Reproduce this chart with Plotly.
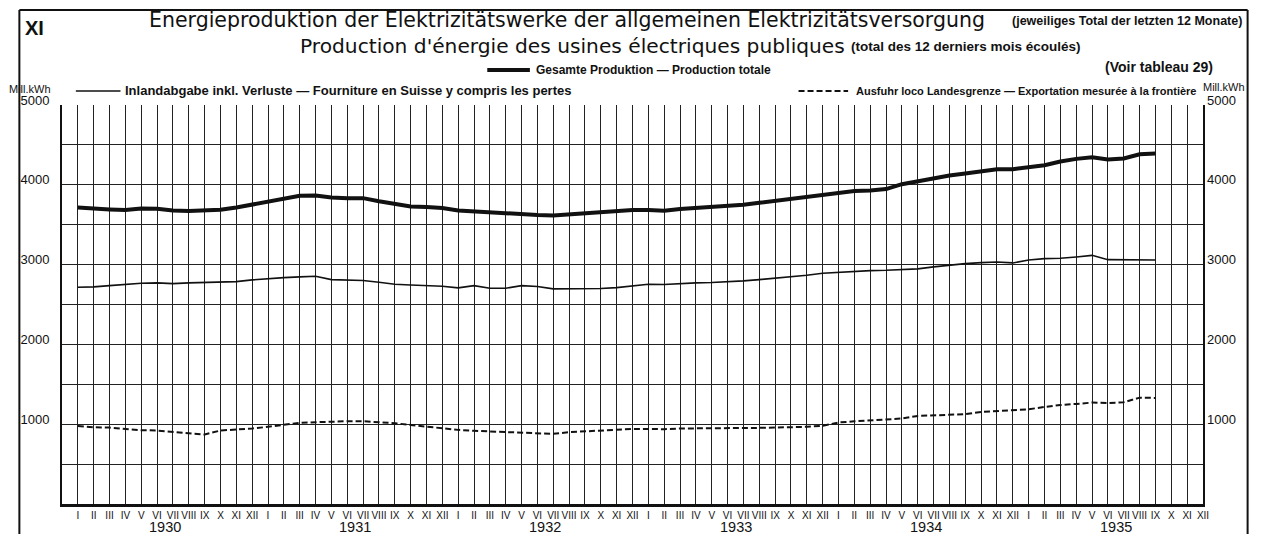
import plotly.graph_objects as go

# ---------------- data ----------------
months = list(range(1, 70))  # Jan 1930 .. Sep 1935

total_production = [
    3716, 3700, 3692, 3683, 3704, 3700, 3679, 3671, 3675, 3687, 3716, 3754,
    3791, 3829, 3862, 3866, 3841, 3833, 3833, 3795, 3758, 3729, 3721, 3708,
    3679, 3667, 3650, 3646, 3637, 3621, 3616, 3629, 3637, 3646, 3671, 3683,
    3683, 3675, 3696, 3708, 3721, 3733, 3750, 3775, 3800, 3821, 3843, 3880,
    3904, 3921, 3929, 3946, 4008, 4046, 4083, 4116, 4141, 4166, 4196, 4196,
    4216, 4246, 4291, 4325, 4346, 4316, 4329, 4383, 4391,
]
inland_supply = [
    2716, 2721, 2737, 2754, 2766, 2771, 2762, 2771, 2775, 2779, 2787, 2808,
    2825, 2837, 2846, 2854, 2812, 2808, 2800, 2779, 2754, 2744, 2739, 2729,
    2708, 2737, 2704, 2704, 2737, 2725, 2696, 2696, 2696, 2700, 2712, 2733,
    2754, 2750, 2762, 2771, 2775, 2783, 2796, 2812, 2829, 2846, 2866, 2892,
    2904, 2916, 2925, 2929, 2933, 2946, 2971, 2996, 3012, 3025, 3033, 3021,
    3058, 3075, 3079, 3096, 3116, 3062, 3058, 3058, 3058,
]
export_border = [
    979, 962, 958, 941, 925, 921, 904, 883, 871, 921, 933, 946,
    967, 992, 1017, 1025, 1033, 1037, 1037, 1029, 1012, 990, 967, 950,
    929, 917, 908, 904, 896, 887, 879, 900, 912, 921, 937, 941,
    941, 937, 946, 946, 946, 946, 950, 954, 958, 958, 967, 981,
    1021, 1037, 1050, 1054, 1071, 1104, 1112, 1116, 1125, 1154, 1166, 1171,
    1187, 1216, 1241, 1254, 1271, 1266, 1275, 1333, 1329,
]

roman_months = ["I", "II", "III", "IV", "V", "VI", "VII", "VIII", "IX", "X", "XI", "XII"]
years = [1930, 1931, 1932, 1933, 1934, 1935]
month_tickvals = list(range(1, 73))
month_ticktext = roman_months * len(years)

y_tickvals = list(range(0, 5001, 500))
y_ticktext = ["" if v % 1000 or v == 0 else str(v) for v in y_tickvals]

# ---------------- layout helpers ----------------
# The page body has an 8px margin, so the figure is made 8px smaller and all
# page positions below are converted by subtracting that offset.
O = 8
W, H = 1265 - O, 534 - O
PLOT_X0, PLOT_X1 = 52, 1203      # page pixels
PLOT_Y0, PLOT_Y1 = 105, 504      # page pixels
L, R = PLOT_X0 - O, W - (PLOT_X1 - O)
T, B = PLOT_Y0 - O, H - (PLOT_Y1 - O)
PW, PH = PLOT_X1 - PLOT_X0, PLOT_Y1 - PLOT_Y0


def px(x):
    return (x - PLOT_X0) / PW


def py(y):
    return (PLOT_Y1 - y) / PH


NARROW = "Liberation Sans Narrow, Arial Narrow, Liberation Sans, Arial, sans-serif"
SANS = "Liberation Sans, Arial, sans-serif"
WIDE = "DejaVu Sans, Verdana, sans-serif"
INK = "#111111"

fig = go.Figure()
fig.add_trace(go.Scatter(x=months, y=total_production, mode="lines",
                         line=dict(color=INK, width=4), name="Gesamte Produktion",
                         showlegend=False))
fig.add_trace(go.Scatter(x=months, y=inland_supply, mode="lines",
                         line=dict(color=INK, width=1.6), name="Inlandabgabe",
                         showlegend=False))
fig.add_trace(go.Scatter(x=months, y=export_border, mode="lines",
                         line=dict(color=INK, width=2, dash="6px,3px"), name="Ausfuhr",
                         showlegend=False))
# right-hand axis mirror (invisible helper trace)
fig.add_trace(go.Scatter(x=[months[0]], y=[total_production[0]], yaxis="y2", mode="lines",
                         line=dict(width=0), hoverinfo="skip", showlegend=False))

annotations = []


def txt(text, x, y, size, bold=False, anchor="left", font=SANS):
    annotations.append(dict(
        text=f"<b>{text}</b>" if bold else text,
        x=px(x), y=py(y), xref="paper", yref="paper",
        xanchor=anchor, yanchor="middle", showarrow=False,
        font=dict(family=font, size=size, color=INK)))


txt("XI", 13, 28, 20, bold=True)
txt("Energieproduktion der Elektrizitätswerke der allgemeinen Elektrizitätsversorgung",
    138, 20, 20.5, font=WIDE)
txt("(jeweiliges Total der letzten 12 Monate)", 1008, 21, 12.5, bold=True)
txt("Production d'énergie des usines électriques publiques", 290, 46, 20.2, font=WIDE)
txt("(total des 12 derniers mois écoulés)", 846, 47, 13.5, bold=True)
txt("Gesamte Produktion — Production totale", 528, 70, 12, bold=True)
txt("(Voir tableau 29)", 1102, 67, 14, bold=True)
txt("Inlandabgabe inkl. Verluste — Fourniture en Suisse y compris les pertes", 114, 91, 13, bold=True)
txt("Ausfuhr loco Landesgrenze — Exportation mesurée à la frontière", 851, 91, 11, bold=True)
txt("Mill.kWh", 20, 89, 11, anchor="center", font=NARROW)
txt("Mill.kWh", 1224, 87, 11, anchor="center", font=NARROW)

for i, yr in enumerate(years):
    annotations.append(dict(
        text=str(yr), x=6.5 + 12 * i, y=0, xref="x", yref="paper",
        xanchor="center", yanchor="top", yshift=-13, showarrow=False,
        font=dict(family=NARROW, size=14.5, color=INK)))

shapes = [
    # outer frame
    dict(type="line", xref="paper", yref="paper", x0=px(9), x1=px(9), y0=py(10), y1=py(545),
         line=dict(color=INK, width=2)),
    dict(type="line", xref="paper", yref="paper", x0=px(9), x1=px(1248), y0=py(10), y1=py(10),
         line=dict(color=INK, width=2)),
    dict(type="line", xref="paper", yref="paper", x0=px(1248), x1=px(1248), y0=py(10), y1=py(545),
         line=dict(color=INK, width=2)),
    # legend keys
    dict(type="line", xref="paper", yref="paper", x0=px(481), x1=px(524), y0=py(70), y1=py(70),
         line=dict(color=INK, width=4)),
    dict(type="line", xref="paper", yref="paper", x0=px(66), x1=px(111), y0=py(91), y1=py(91),
         line=dict(color=INK, width=1.6)),
    dict(type="line", xref="paper", yref="paper", x0=px(795), x1=px(845), y0=py(91), y1=py(91),
         line=dict(color=INK, width=2, dash="6px,3px")),
]

yaxis_common = dict(
    range=[0, 5000], tickvals=y_tickvals, ticktext=y_ticktext,
    ticks="", ticklabelshift=-5,
    tickfont=dict(family=NARROW, size=13, color=INK),
    zeroline=False, fixedrange=True,
)

fig.update_layout(
    width=W, height=H,
    margin=dict(l=L, r=R, t=T, b=B, pad=0),
    paper_bgcolor="white", plot_bgcolor="white",
    showlegend=False,
    font=dict(family=NARROW, color=INK),
    xaxis=dict(
        range=[0, 72], tickvals=month_tickvals, ticktext=month_ticktext,
        tickangle=0, ticks="", ticklabelstandoff=0,
        tickfont=dict(family=NARROW, size=10, color=INK),
        showgrid=True, gridcolor="#222222", gridwidth=1.3,
        showline=True, linecolor=INK, linewidth=2.5, mirror=False,
        zeroline=False, fixedrange=True,
    ),
    yaxis=dict(
        **yaxis_common, side="left",
        showgrid=True, gridcolor="#222222", gridwidth=1.3,
        showline=True, linecolor=INK, linewidth=2, mirror=True,
        ticklabelstandoff=8,
    ),
    yaxis2=dict(
        **yaxis_common, side="right", overlaying="y",
        showgrid=False, showline=False, ticklabelstandoff=3,
    ),
    annotations=annotations,
    shapes=shapes,
)

fig.write_html("out.html")
